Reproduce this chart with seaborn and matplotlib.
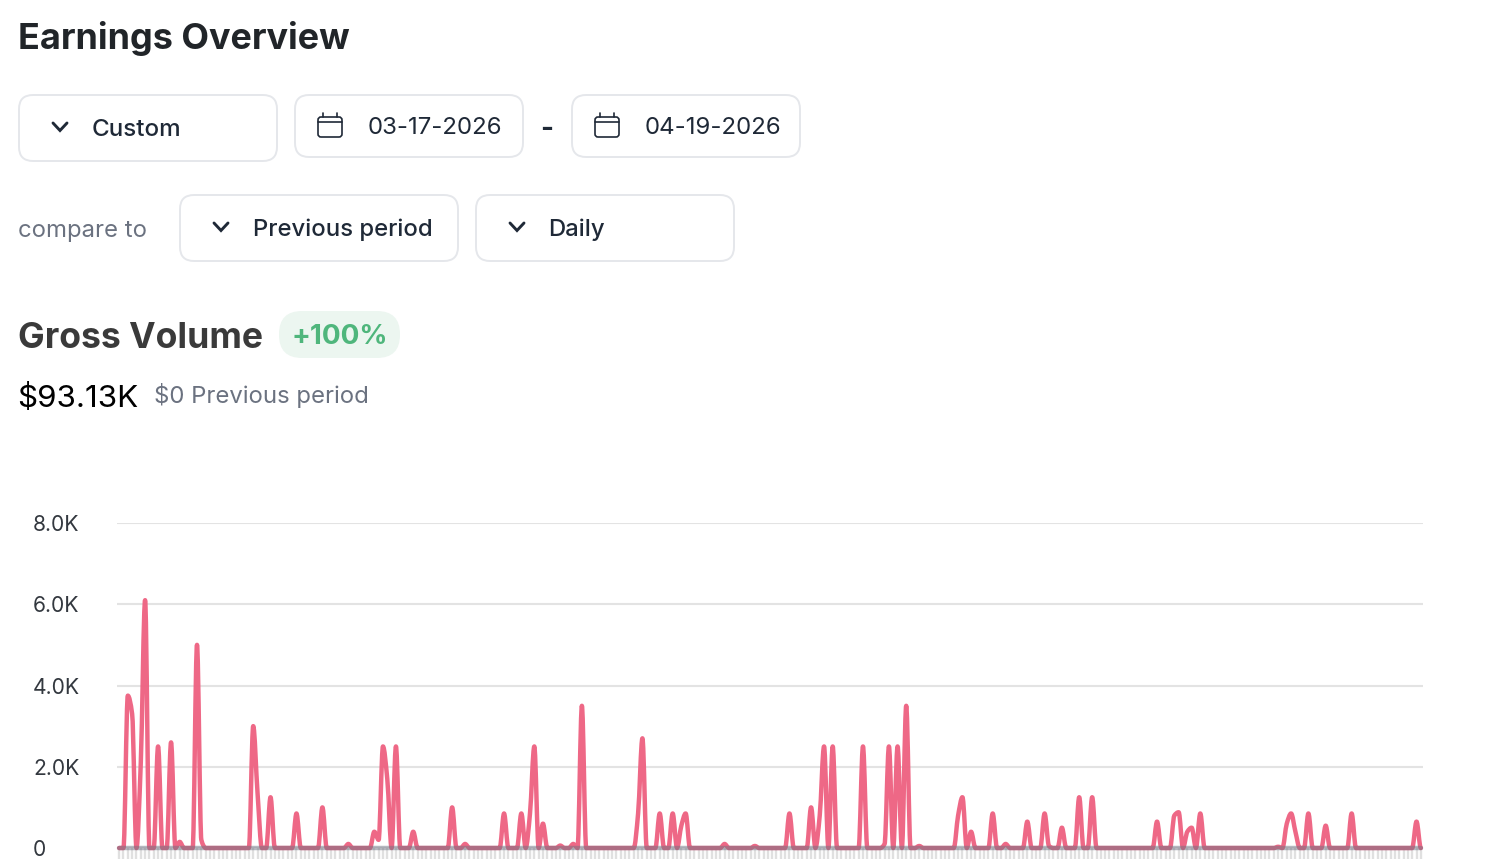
#!/usr/bin/env python3
import numpy as np
import pandas as pd
import matplotlib
matplotlib.use("Agg")
import matplotlib.pyplot as plt
import seaborn as sns
from matplotlib.patches import FancyBboxPatch
from matplotlib.path import Path
from matplotlib.patheffects import AbstractPathEffect

# hourly buckets, only the non-zero ones are listed
n_buckets = 302
spike_idx = [2, 3, 5, 6, 9, 12, 14, 18, 19, 31, 32, 35, 41, 47, 53, 59, 60, 61, 62, 64, 68,
             77, 80, 89, 93, 95, 96, 98, 102, 105, 107, 120, 121, 125, 128, 130, 131, 140, 147,
             155, 160, 162, 163, 165, 172, 177, 178, 180, 182, 185, 194, 195, 197, 202, 205,
             210, 214, 215, 218, 222, 225, 240, 244, 245, 247, 248, 250, 268, 270, 271, 272,
             275, 279, 285, 300]
spike_val = [3750, 3300, 2100, 6100, 2500, 2600, 150, 5000, 200, 3000, 1350, 1250, 850, 1000, 100,
             400, 200, 2500, 1700, 2500, 400,
             1000, 100, 850, 850, 850, 2500, 600, 60, 100, 3500, 850, 2700, 850, 850, 550, 850, 100, 50,
             850, 1000, 800, 2500, 2500, 2500, 100, 2500, 2500, 3500, 50, 800, 1250, 400, 850, 100,
             650, 850, 50, 500, 1250, 1250, 650, 800, 880, 400, 500, 850, 30, 600, 850, 400,
             850, 550, 850, 650]
y_ticks = [0, 2000, 4000, 6000, 8000]
y_labels = ["0", "2.0K", "4.0K", "6.0K", "8.0K"]

current = np.zeros(n_buckets)
current[spike_idx] = spike_val
previous = np.zeros(n_buckets)
df = pd.DataFrame({"bucket": np.arange(n_buckets), "current": current, "previous": previous})

sns.set_theme(style="white")
plt.rcParams["font.family"] = ["Inter", "DejaVu Sans"]

W, H = 1496, 866
fig = plt.figure(figsize=(W / 100, H / 100), dpi=100, facecolor="white")


class MonotoneCurve(AbstractPathEffect):
    """Strokes the line as a monotone cubic, like the web chart does."""

    def draw_path(self, renderer, gc, tpath, affine, rgbFace=None):
        xy = tpath.vertices
        h = np.diff(xy[:, 0])
        d = np.diff(xy[:, 1]) / h
        m = np.zeros(len(xy))
        same = d[:-1] * d[1:] > 0
        m[1:-1][same] = 2 * d[:-1][same] * d[1:][same] / (d[:-1][same] + d[1:][same])
        verts = [xy[0]]
        for i in range(len(h)):
            verts.append((xy[i, 0] + h[i] / 3, xy[i, 1] + m[i] * h[i] / 3))
            verts.append((xy[i + 1, 0] - h[i] / 3, xy[i + 1, 1] - m[i + 1] * h[i] / 3))
            verts.append(xy[i + 1])
        codes = [Path.MOVETO] + [Path.CURVE4] * (3 * len(h))
        renderer.draw_path(gc, Path(np.array(verts), codes), affine, rgbFace)


# overlay in pixel coordinates for the page controls
ui = fig.add_axes([0, 0, 1, 1])
ui.set_xlim(0, W)
ui.set_ylim(H, 0)
ui.axis("off")

DARK = "#1f2937"
GREY = "#6b7280"


def box(x0, y0, x1, y1, r=14, fc="white", ec="#e5e7eb"):
    ui.add_patch(FancyBboxPatch((x0 + r, y0 + r), x1 - x0 - 2 * r, y1 - y0 - 2 * r,
                                boxstyle=f"round,pad={r},rounding_size={r}",
                                fc=fc, ec=ec, lw=1.4))


def chevron(cx, cy):
    ui.plot([cx - 7, cx, cx + 7], [cy - 4, cy + 3.5, cy - 4], color=DARK, lw=2.1,
            solid_capstyle="round", solid_joinstyle="miter")


def calendar(cx, cy):
    ui.add_patch(FancyBboxPatch((cx - 11, cy - 8), 22, 18, boxstyle="round,pad=1,rounding_size=3",
                                fc="none", ec=DARK, lw=1.2))
    ui.plot([cx - 12, cx + 12], [cy - 4, cy - 4], color=DARK, lw=1.2)
    for dx in (-7, 7):
        ui.plot([cx + dx, cx + dx], [cy - 13, cy - 9], color=DARK, lw=1.2)


ui.text(18, 38, "Earnings Overview", fontsize=25.9, fontweight="bold", color="#212529", va="center")

box(19, 95, 277, 161)
chevron(60, 127)
ui.text(92, 130, "Custom", fontsize=17.4, color=DARK, va="center", fontweight="medium")

box(295, 95, 523, 157)
calendar(330, 126)
ui.text(368, 128, "03-17-2026", fontsize=17.3, color=DARK, va="center")
ui.text(547, 130, "-", fontsize=20, color=DARK, va="center", ha="center", fontweight="bold")
box(572, 95, 800, 157)
calendar(607, 126)
ui.text(645, 128, "04-19-2026", fontsize=17.3, color=DARK, va="center")

ui.text(18, 231, "compare to", fontsize=17.2, color=GREY, va="center")
box(180, 195, 458, 261)
chevron(221, 227)
ui.text(253, 230, "Previous period", fontsize=17.2, color=DARK, va="center", fontweight="medium")
box(476, 195, 734, 261)
chevron(517, 227)
ui.text(548.5, 230, "Daily", fontsize=17.2, color=DARK, va="center", fontweight="medium")

ui.text(18, 338, "Gross Volume", fontsize=25.6, fontweight="bold", color="#3a3a3a", va="center")
box(279, 311, 400, 358, r=23, fc="#ecf6f0", ec="none")
ui.text(339.5, 337, "+100%", fontsize=20, fontweight="bold", color="#4fb67c", va="center", ha="center")
ui.text(17.5, 398, "$93.13K", fontsize=22.6, color="black", va="center")
ui.text(154.5, 396, "$0 Previous period", fontsize=17.2, color=GREY, va="center")

# chart
ax = fig.add_axes([117 / W, (H - 848) / H, (1423 - 117) / W, (848 - 523) / H])
ax.patch.set_alpha(0)
sns.lineplot(data=df, x="bucket", y="current", ax=ax, color="#ee6080", alpha=0.95, linewidth=3.2,
             clip_on=False, zorder=3, path_effects=[MonotoneCurve()])
sns.lineplot(data=df, x="bucket", y="previous", ax=ax, color="#6f7382", alpha=0.5, linewidth=3.2,
             clip_on=False, zorder=4)
ax.set_xlim(-0.5, n_buckets - 0.5)
ax.set_ylim(0, 8000)
ax.set_xlabel("")
ax.set_ylabel("")
ax.set_yticks(y_ticks)
ax.set_yticklabels(y_labels, fontsize=15.2, color="#33383f", ha="left")
ax.set_xticks(df["bucket"])
ax.set_xticklabels([])
ax.tick_params(axis="y", length=0, pad=60.5)
ax.tick_params(axis="x", length=8, width=1.7, color="#e0e0e0", bottom=True, pad=0)
ax.grid(axis="y", color="#e3e3e3", linewidth=1.5)
ax.grid(axis="x", visible=False)
sns.despine(ax=ax, left=True, bottom=True)

fig.savefig("out.png", dpi=100)
